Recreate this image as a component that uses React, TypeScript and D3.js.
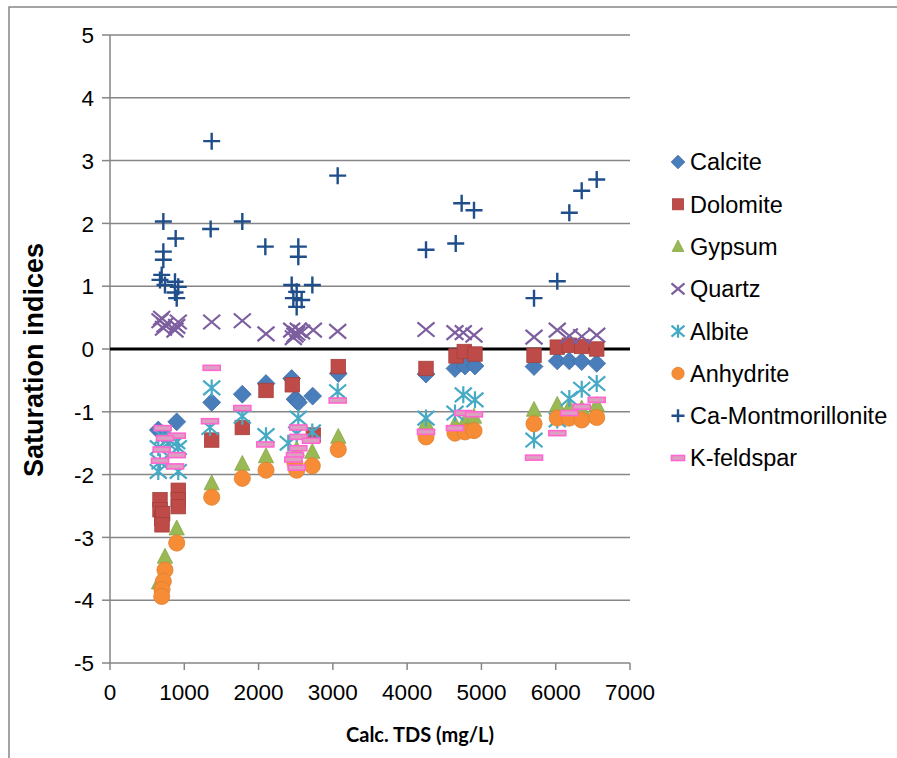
import React from "react";
import * as d3 from "d3";

// ---- data: [Calc. TDS (mg/L), saturation index] ----
const calcite: [number, number][] = [
  [898, -1.16], [650, -1.29], [709, -1.35], [1369, -0.85], [1781, -0.72], [2100, -0.55],
  [2446, -0.47], [2490, -0.8], [2513, -0.81], [2535, -0.85], [2728, -0.75], [3073, -0.39],
  [4254, -0.4], [4644, -0.31], [4779, -0.27], [4913, -0.27], [5708, -0.28], [6021, -0.19],
  [6183, -0.19], [6350, -0.2], [6552, -0.23],
];
const dolomite: [number, number][] = [
  [919, -2.25], [919, -2.4], [673, -2.4], [673, -2.56], [696, -2.7], [919, -2.51], [709, -2.62],
  [700, -2.8], [1369, -1.45], [1781, -1.25], [2100, -0.66], [2454, -0.57], [2737, -1.37],
  [3073, -0.28], [4254, -0.31], [4658, -0.11], [4769, -0.04], [4913, -0.08], [5708, -0.1],
  [6021, 0.03], [6183, 0.06], [6350, 0.04], [6552, 0.0],
];
const gypsum: [number, number][] = [
  [898, -2.86], [740, -3.31], [660, -3.72], [1369, -2.14], [1781, -1.83], [2100, -1.71],
  [2513, -1.6], [2723, -1.64], [3073, -1.4], [4254, -1.18], [4644, -1.2], [4779, -1.15],
  [4900, -1.08], [5708, -0.97], [6021, -0.89], [6183, -0.93], [6350, -0.95], [6552, -0.89],
];
const quartz: [number, number][] = [
  [696, 0.49], [740, 0.38], [919, 0.43], [875, 0.3], [673, 0.45], [720, 0.33], [898, 0.36],
  [1369, 0.43], [1781, 0.45], [2100, 0.24], [2446, 0.3], [2490, 0.22], [2513, 0.25],
  [2535, 0.3], [2468, 0.18], [2580, 0.27], [2737, 0.3], [3065, 0.28], [4254, 0.31],
  [4644, 0.26], [4756, 0.26], [4900, 0.22], [5708, 0.19], [6021, 0.3], [6183, 0.21],
  [6350, 0.2], [6552, 0.22],
];
const albite: [number, number][] = [
  [650, -1.57], [919, -1.57], [650, -1.95], [919, -1.95], [780, -1.5], [898, -1.48],
  [673, -1.8], [709, -1.4], [1369, -0.62], [1346, -1.25], [1781, -1.07], [2100, -1.38],
  [2535, -1.1], [2723, -1.32], [2400, -1.5], [2513, -1.35], [3065, -0.68], [4254, -1.1],
  [4644, -1.02], [4756, -0.73], [4913, -0.81], [5708, -1.45], [6021, -1.13], [6183, -0.79],
  [6350, -0.64], [6552, -0.55],
];
const anhydrite: [number, number][] = [
  [898, -3.09], [740, -3.52], [718, -3.7], [700, -3.83], [696, -3.94], [1369, -2.36],
  [1781, -2.06], [2100, -1.93], [2490, -1.82], [2513, -1.93], [2723, -1.86], [3073, -1.6],
  [4254, -1.4], [4644, -1.34], [4779, -1.32], [4900, -1.3], [5708, -1.19], [6021, -1.1],
  [6183, -1.1], [6350, -1.13], [6552, -1.09],
];
const caMontmorillonite: [number, number][] = [
  [718, 2.03], [884, 1.76], [718, 1.55], [718, 1.42], [696, 1.18], [673, 1.1], [740, 1.02],
  [875, 1.07], [919, 0.99], [875, 0.9], [898, 0.81], [1369, 3.31], [1355, 1.91], [1781, 2.03],
  [2091, 1.63], [2535, 1.63], [2535, 1.47], [2724, 1.02], [2446, 1.02], [2513, 0.91],
  [2468, 0.81], [2580, 0.78], [2513, 0.67], [3065, 2.76], [4254, 1.58], [4654, 1.68],
  [4734, 2.32], [4900, 2.21], [5708, 0.81], [6021, 1.08], [6183, 2.17], [6350, 2.52],
  [6552, 2.7],
];
const kFeldspar: [number, number][] = [
  [709, -1.26], [898, -1.38], [740, -1.42], [696, -1.6], [898, -1.69], [673, -1.78],
  [875, -1.87], [1369, -0.3], [1346, -1.15], [1781, -0.94], [2091, -1.52], [2535, -1.25],
  [2535, -1.4], [2706, -1.46], [2535, -1.58], [2490, -1.69], [2468, -1.76], [2513, -1.89],
  [3065, -0.82], [4254, -1.32], [4644, -1.26], [4756, -1.02], [4900, -1.04], [5708, -1.73],
  [6021, -1.34], [6183, -1.02], [6350, -0.92], [6552, -0.81],
];

const seriesNames = [
  "Calcite", "Dolomite", "Gypsum", "Quartz", "Albite", "Anhydrite", "Ca-Montmorillonite", "K-feldspar",
];
const seriesData = [calcite, dolomite, gypsum, quartz, albite, anhydrite, caMontmorillonite, kFeldspar];
const xTicks = [0, 1000, 2000, 3000, 4000, 5000, 6000, 7000];
const yTicks = [-5, -4, -3, -2, -1, 0, 1, 2, 3, 4, 5];

const FONT = "'Liberation Sans', Arial, sans-serif";
const GRID = "#868686";

type Kind = "diamond" | "square" | "triangle" | "x" | "star" | "circle" | "plus" | "dash";
const kinds: Kind[] = ["diamond", "square", "triangle", "x", "star", "circle", "plus", "dash"];

function Marker({ kind, cx, cy, s }: { kind: Kind; cx: number; cy: number; s: number }) {
  const h = s / 2;
  switch (kind) {
    case "diamond":
      return (
        <path
          d={`M${cx},${cy - h * 1.05}L${cx + h * 1.05},${cy}L${cx},${cy + h * 1.05}L${cx - h * 1.05},${cy}Z`}
          fill="#4A7EBB" stroke="#3C6CA8" strokeWidth={0.8}
        />
      );
    case "square":
      return <rect x={cx - h * 0.85} y={cy - h * 0.85} width={h * 1.7} height={h * 1.7} fill="#BE4B48" stroke="#A5403D" strokeWidth={0.8} />;
    case "triangle":
      return (
        <path
          d={`M${cx},${cy - h}L${cx + h * 0.9},${cy + h * 0.75}L${cx - h * 0.9},${cy + h * 0.75}Z`}
          fill="#98B954" stroke="#86A646" strokeWidth={0.8}
        />
      );
    case "x":
      return (
        <path
          d={`M${cx - h},${cy - h * 0.85}L${cx + h},${cy + h * 0.85}M${cx - h},${cy + h * 0.85}L${cx + h},${cy - h * 0.85}`}
          stroke="#7D5FA0" strokeWidth={2.2} fill="none"
        />
      );
    case "star":
      return (
        <path
          d={`M${cx - h},${cy - h * 0.85}L${cx + h},${cy + h * 0.85}M${cx - h},${cy + h * 0.85}L${cx + h},${cy - h * 0.85}M${cx},${cy - h}L${cx},${cy + h}`}
          stroke="#46AAC5" strokeWidth={2.2} fill="none"
        />
      );
    case "circle":
      return <circle cx={cx} cy={cy} r={h * 0.95} fill="#F68C36" stroke="#E0802F" strokeWidth={0.8} />;
    case "plus":
      return (
        <path
          d={`M${cx - h},${cy}L${cx + h},${cy}M${cx},${cy - h}L${cx},${cy + h}`}
          stroke="#1F4E8A" strokeWidth={2.4} fill="none"
        />
      );
    case "dash":
      return (
        <rect x={cx - h} y={cy - 2.5} width={s} height={5} fill="#DCA0C0" stroke="#FF66D0" strokeWidth={1.6} />
      );
  }
}

export default function App() {
  const x = d3.scaleLinear().domain([0, 7000]).range([110, 630]);
  const y = d3.scaleLinear().domain([-5, 5]).range([663, 35]);
  const legendY = d3.scaleLinear().domain([0, 7]).range([162, 458]);

  return (
    <svg
      width={897}
      height={758}
      style={{ position: "absolute", left: 0, top: 0, background: "#fff" }}
      fontFamily={FONT}
    >
      <rect x={9} y={7} width={1000} height={1000} fill="#fff" stroke={GRID} strokeWidth={1.5} />
      {/* gridlines */}
      {yTicks.map((t) =>
        t === 0 ? null : (
          <line key={t} x1={x(0)} x2={x(7000)} y1={y(t)} y2={y(t)} stroke={GRID} strokeWidth={1.5} />
        )
      )}
      {/* y axis */}
      <line x1={x(0)} x2={x(0)} y1={y(5)} y2={y(-5)} stroke={GRID} strokeWidth={1.5} />
      {yTicks.map((t) => (
        <g key={"yt" + t}>
          <line x1={x(0) - 8} x2={x(0)} y1={y(t)} y2={y(t)} stroke={GRID} strokeWidth={1.5} />
          <text x={94} y={y(t)} dy="0.36em" textAnchor="end" fontSize={22.5} fill="#000">
            {t}
          </text>
        </g>
      ))}
      {/* x axis ticks */}
      {xTicks.map((t) => (
        <g key={"xt" + t}>
          <line x1={x(t)} x2={x(t)} y1={y(-5)} y2={y(-5) + 7} stroke={GRID} strokeWidth={1.5} />
          <text x={x(t)} y={692} dy="0.36em" textAnchor="middle" fontSize={22.5} fill="#000">
            {t}
          </text>
        </g>
      ))}
      {/* zero line */}
      <line x1={x(0)} x2={x(7000)} y1={y(0)} y2={y(0)} stroke="#000" strokeWidth={3.2} />
      {/* series */}
      {seriesData.map((data, i) => (
        <g key={seriesNames[i]}>
          {data.map((d, j) => (
            <Marker key={j} kind={kinds[i]} cx={x(d[0])} cy={y(d[1])} s={17} />
          ))}
        </g>
      ))}
      {/* axis titles */}
      <text
        transform={`translate(33,360) rotate(-90)`}
        textAnchor="middle"
        dy="0.36em"
        fontSize={27}
        fontWeight="bold"
        fill="#000"
      >
        Saturation indices
      </text>
      <text x={420} y={735} dy="0.36em" textAnchor="middle" fontSize={20} fontWeight="bold" fontFamily="Lato, 'Open Sans', sans-serif" fill="#000">
        Calc. TDS (mg/L)
      </text>
      {/* legend */}
      {seriesNames.map((name, i) => (
        <g key={"lg" + name}>
          <Marker kind={kinds[i]} cx={678} cy={legendY(i)} s={13} />
          <text x={690} y={legendY(i)} dy="0.36em" fontSize={23.5} fill="#000">
            {name}
          </text>
        </g>
      ))}
    </svg>
  );
}
